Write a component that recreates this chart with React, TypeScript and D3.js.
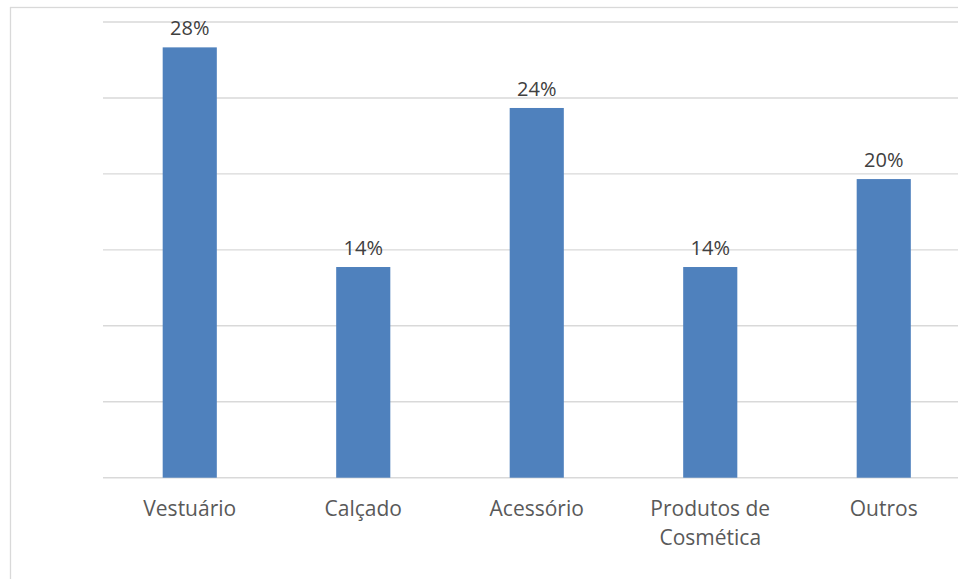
import React, { useEffect, useRef } from "react";
import * as d3 from "d3";

const categories = ["Vestuário", "Calçado", "Acessório", "Produtos de Cosmética", "Outros"];
const values = [0.2833, 0.1387, 0.2434, 0.1387, 0.1966];
const yTicks = [0, 0.05, 0.1, 0.15, 0.2, 0.25, 0.3];

const W = 958;
const H = 579;
const FONT = "'Open Sans', sans-serif";

export default function App() {
  const ref = useRef<SVGSVGElement>(null);

  useEffect(() => {
    const svg = d3.select(ref.current);
    svg.selectAll("*").remove();

    // outer chart frame
    svg.append("rect")
      .attr("x", 10.5).attr("y", 7.5)
      .attr("width", 990).attr("height", 620)
      .attr("fill", "#ffffff")
      .attr("stroke", "#d9d9d9").attr("stroke-width", 1.3);

    const left = 103, right = 970.5, top = 22, bottom = 477.7;
    const x = d3.scaleBand<string>().domain(categories).range([left, right]).paddingInner(0.688).paddingOuter(0.344);
    const y = d3.scaleLinear().domain([0, 0.3]).range([bottom, top]);

    svg.append("g").selectAll("line").data(yTicks).join("line")
      .attr("x1", left).attr("x2", right)
      .attr("y1", (d) => y(d)).attr("y2", (d) => y(d))
      .attr("stroke", "#d9d9d9").attr("stroke-width", 1.4);

    svg.append("g").selectAll("rect").data(values).join("rect")
      .attr("x", (_, i) => x(categories[i])!)
      .attr("width", x.bandwidth())
      .attr("y", (d) => y(d))
      .attr("height", (d) => bottom - y(d))
      .attr("fill", "#4f81bd");

    svg.append("g").selectAll("text").data(values).join("text")
      .attr("x", (_, i) => x(categories[i])! + x.bandwidth() / 2)
      .attr("y", (d) => y(d) - 12)
      .attr("text-anchor", "middle")
      .attr("font-family", FONT).attr("font-size", 20)
      .attr("fill", "#404040")
      .text((d) => d3.format(".0%")(d));

    const maxW = x.step() * 0.9;
    const labels = svg.append("g");
    categories.forEach((c) => {
      const t = labels.append("text")
        .attr("x", x(c)! + x.bandwidth() / 2)
        .attr("y", bottom + 38)
        .attr("text-anchor", "middle")
        .attr("font-family", FONT).attr("font-size", 21)
        .attr("fill", "#595959");
      const words = c.split(" ");
      let line: string[] = [];
      let ts = t.append("tspan").attr("x", x(c)! + x.bandwidth() / 2).attr("dy", 0);
      words.forEach((w) => {
        line.push(w);
        ts.text(line.join(" "));
        if ((ts.node() as SVGTSpanElement).getComputedTextLength() > maxW && line.length > 1) {
          line.pop();
          ts.text(line.join(" "));
          line = [w];
          ts = t.append("tspan").attr("x", x(c)! + x.bandwidth() / 2).attr("dy", 29.5).text(w);
        }
      });
    });
  }, []);

  return (
    <svg ref={ref} width={W} height={H} style={{ position: "fixed", left: 0, top: 0, background: "#fff" }} />
  );
}
